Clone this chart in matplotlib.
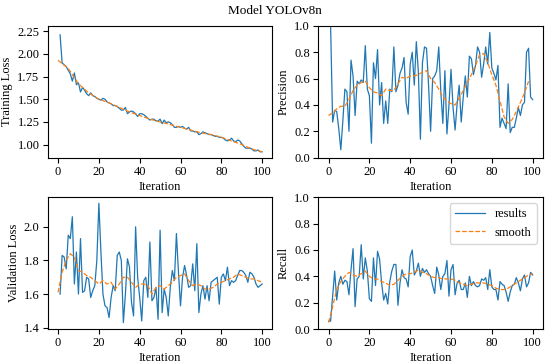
import matplotlib
matplotlib.use('Agg')
import matplotlib.pyplot as plt

plt.rcParams['font.family'] = ['Liberation Serif', 'DejaVu Serif']
plt.rcParams['font.size'] = 9

# raw results per iteration
iters_1 = list(range(1, 101))
iters_0 = list(range(0, 101))

train_loss = [2.21, 1.90, 1.88, 1.86, 1.82, 1.78, 1.70, 1.79, 1.66, 1.68,
              1.58, 1.63, 1.60, 1.56, 1.54, 1.57, 1.54, 1.53, 1.51, 1.50,
              1.49, 1.51, 1.50, 1.47, 1.46, 1.45, 1.43, 1.43, 1.42, 1.40,
              1.38, 1.38, 1.41, 1.34, 1.36, 1.37, 1.36, 1.34, 1.31, 1.34,
              1.34, 1.33, 1.31, 1.29, 1.27, 1.28, 1.28, 1.26, 1.26, 1.28,
              1.23, 1.27, 1.24, 1.25, 1.24, 1.22, 1.19, 1.19, 1.20, 1.19,
              1.20, 1.18, 1.17, 1.19, 1.15, 1.15, 1.14, 1.14, 1.11, 1.12,
              1.14, 1.13, 1.12, 1.11, 1.11, 1.10, 1.09, 1.09, 1.08, 1.08,
              1.07, 1.05, 1.04, 1.05, 1.07, 1.04, 1.03, 1.05, 1.04, 1.01,
              0.98, 0.96, 0.96, 0.96, 0.95, 0.93, 0.93, 0.94, 0.92, 0.92]

precision = [1.00, 0.27, 0.36, 0.35, 0.22, 0.06, 0.28, 0.52, 0.50, 0.20,
             0.74, 0.62, 0.32, 0.58, 0.56, 0.59, 0.57, 0.85, 0.52, 0.47,
             0.11, 0.72, 0.60, 0.82, 0.40, 0.57, 0.26, 0.43, 0.26, 0.52,
             0.50, 0.84, 0.50, 0.55, 0.64, 0.68, 0.76, 0.42, 0.33, 0.71,
             0.80, 0.55, 0.88, 0.65, 0.14, 0.72, 0.84, 0.83, 0.55, 0.20,
             0.60, 0.62, 0.66, 0.84, 0.50, 0.26, 0.66, 0.18, 0.40, 0.67,
             0.38, 0.21, 0.41, 0.55, 0.27, 0.46, 0.62, 0.46, 0.77, 0.75,
             0.63, 0.70, 0.84, 0.80, 0.61, 0.71, 0.84, 0.71, 0.95, 0.68,
             0.64, 0.59, 0.70, 0.23, 0.30, 0.26, 0.22, 0.56, 0.19, 0.23,
             0.23, 0.30, 0.38, 0.32, 0.40, 0.42, 0.80, 0.83, 0.46, 0.44]

val_loss = [1.60, 1.83, 1.82, 1.75, 1.95, 1.93, 2.06, 1.66, 1.85, 1.60,
            1.93, 1.61, 1.62, 1.70, 1.69, 1.58, 1.62, 1.65, 1.80, 2.14,
            1.85, 1.60, 1.53, 1.52, 1.46, 1.58, 1.65, 1.62, 1.83, 1.85,
            1.80, 1.43, 1.60, 1.81, 1.76, 1.55, 1.47, 2.00, 1.70, 1.58,
            1.44, 1.68, 1.70, 1.58, 1.91, 1.56, 1.58, 1.64, 1.45, 1.98,
            1.49, 1.63, 1.58, 1.47, 1.64, 1.74, 1.68, 1.96, 1.73, 1.53,
            1.70, 1.77, 1.71, 1.64, 1.65, 1.78, 1.62, 1.90, 1.49, 1.60,
            1.65, 1.57, 1.65, 1.56, 1.67, 1.68, 1.69, 1.70, 1.54, 1.70,
            1.72, 1.68, 1.76, 1.65, 1.68, 1.67, 1.68, 1.71, 1.74, 1.74,
            1.73, 1.71, 1.67, 1.73, 1.72, 1.70, 1.66, 1.64, 1.65, 1.66]

recall = [0.06, 0.06, 0.25, 0.44, 0.22, 0.35, 0.40, 0.34, 0.37, 0.36,
          0.26, 0.45, 0.61, 0.17, 0.38, 0.40, 0.64, 0.38, 0.54, 0.44,
          0.23, 0.21, 0.54, 0.33, 0.59, 0.53, 0.35, 0.22, 0.27, 0.19,
          0.36, 0.44, 0.49, 0.49, 0.18, 0.35, 0.45, 0.39, 0.38, 0.32,
          0.55, 0.60, 0.41, 0.44, 0.50, 0.40, 0.46, 0.43, 0.45, 0.42,
          0.40, 0.33, 0.27, 0.47, 0.41, 0.30, 0.40, 0.42, 0.52, 0.25,
          0.45, 0.49, 0.26, 0.35, 0.37, 0.30, 0.30, 0.35, 0.24, 0.40,
          0.33, 0.36, 0.33, 0.32, 0.33, 0.38, 0.37, 0.39, 0.30, 0.45,
          0.32, 0.30, 0.30, 0.22, 0.36, 0.34, 0.33, 0.28, 0.21, 0.28,
          0.33, 0.34, 0.39, 0.35, 0.29, 0.38, 0.41, 0.32, 0.35, 0.43,
          0.41]

# smoothed curves
train_smooth_x = list(range(0, 101, 5))
train_smooth = [1.93, 1.84, 1.67, 1.57, 1.50, 1.46, 1.41, 1.36, 1.32, 1.28, 1.25,
                1.22, 1.19, 1.16, 1.13, 1.11, 1.08, 1.04, 1.00, 0.95, 0.92]

prec_smooth_x = list(range(0, 99, 2))
prec_smooth = [0.32, 0.34, 0.37, 0.39, 0.39, 0.44, 0.51, 0.55, 0.57, 0.58,
               0.53, 0.50, 0.49, 0.47, 0.52, 0.51, 0.51, 0.56, 0.61, 0.60,
               0.62, 0.62, 0.63, 0.65, 0.66, 0.60, 0.57, 0.52, 0.46, 0.43,
               0.41, 0.40, 0.45, 0.51, 0.57, 0.63, 0.70, 0.78, 0.79, 0.72,
               0.63, 0.55, 0.43, 0.31, 0.26, 0.29, 0.35, 0.42, 0.49, 0.58]

val_smooth_x = list(range(0, 101, 2))
val_smooth = [1.61, 1.73, 1.80, 1.84, 1.82, 1.74, 1.73, 1.71, 1.70, 1.68,
              1.66, 1.68, 1.66, 1.67, 1.63, 1.66, 1.70, 1.70, 1.67, 1.64,
              1.66, 1.66, 1.65, 1.60, 1.64, 1.65, 1.63, 1.65, 1.67, 1.70,
              1.71, 1.72, 1.68, 1.65, 1.66, 1.65, 1.63, 1.63, 1.64, 1.66,
              1.67, 1.68, 1.69, 1.70, 1.72, 1.71, 1.70, 1.69, 1.69, 1.68,
              1.67]

rec_smooth_x = list(range(0, 101, 2))
rec_smooth = [0.05, 0.17, 0.30, 0.36, 0.40, 0.43, 0.41, 0.40, 0.42, 0.44,
              0.40, 0.38, 0.38, 0.36, 0.35, 0.33, 0.34, 0.37, 0.40, 0.42,
              0.42, 0.43, 0.45, 0.43, 0.42, 0.40, 0.39, 0.39, 0.38, 0.38,
              0.38, 0.37, 0.35, 0.34, 0.33, 0.34, 0.35, 0.35, 0.35, 0.34,
              0.33, 0.31, 0.30, 0.30, 0.31, 0.33, 0.35, 0.37, 0.39, 0.41,
              0.42]

x_ticks = [0, 20, 40, 60, 80, 100]
train_ticks = [1.00, 1.25, 1.50, 1.75, 2.00, 2.25]
val_ticks = [1.4, 1.6, 1.8, 2.0]
rate_ticks = [0.0, 0.2, 0.4, 0.6, 0.8, 1.0]

fig, axs = plt.subplots(2, 2, figsize=(5.5, 3.64), dpi=100)
fig.subplots_adjust(left=0.087, right=0.987, top=0.929, bottom=0.096,
                    wspace=0.205, hspace=0.30)
fig.suptitle('Model YOLOv8n', fontsize=9.5, y=0.985)

panels = [
    (axs[0, 0], iters_1, train_loss, train_smooth_x, train_smooth, 'Training Loss', (0.855, 2.31), train_ticks, '{:.2f}'),
    (axs[0, 1], iters_1, precision, prec_smooth_x, prec_smooth, 'Precision', (0.0, 1.0), rate_ticks, '{:.1f}'),
    (axs[1, 0], iters_1, val_loss, val_smooth_x, val_smooth, 'Validation Loss', (1.392, 2.176), val_ticks, '{:.1f}'),
    (axs[1, 1], iters_0, recall, rec_smooth_x, rec_smooth, 'Recall', (0.0, 1.0), rate_ticks, '{:.1f}'),
]

for ax, x, y, sx, sy, name, lim, yt, fmt in panels:
    ax.plot(x, y, color='#1f77b4', linewidth=0.9, label='results')
    ax.plot(sx, sy, color='#ff7f0e', linestyle='--', linewidth=0.9, label='smooth')
    ax.set_xlim(-5, 105)
    ax.set_ylim(*lim)
    ax.set_xticks(x_ticks)
    ax.set_yticks(yt)
    ax.set_yticklabels([fmt.format(v) for v in yt])
    ax.set_xlabel('Iteration', fontsize=9, labelpad=2)
    ax.set_ylabel(name, fontsize=9, labelpad=3)
    ax.tick_params(labelsize=9, length=3.5, pad=2.5)

axs[1, 1].legend(loc='upper right', fontsize=9, handlelength=2.4)

plt.savefig('out.png', dpi=100)
